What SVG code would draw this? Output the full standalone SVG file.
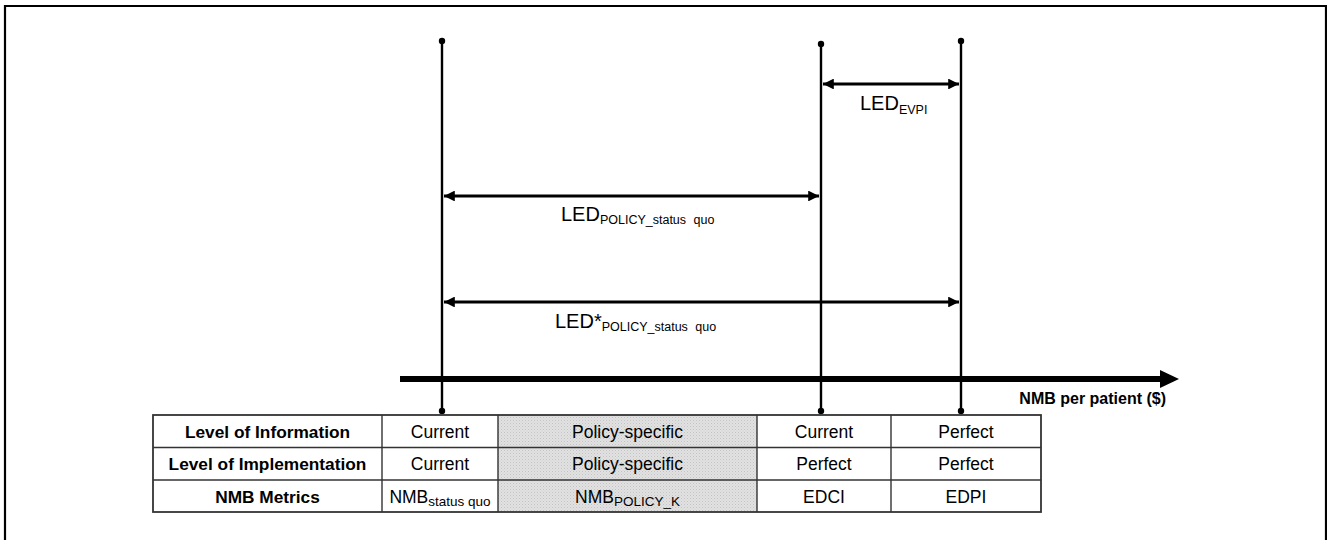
<svg xmlns="http://www.w3.org/2000/svg" width="1327" height="540" viewBox="0 0 1327 540">
<style>
.frame{fill:none;stroke:#000;stroke-width:2.2}
.vline{stroke:#000;stroke-width:2.4;fill:none}
.dot{fill:#000}
.dbl{stroke:#000;stroke-width:3;fill:none;marker-start:url(#ahS);marker-end:url(#ahE)}
.axis{stroke:#000;stroke-width:6;fill:none}
.lbl{font-family:"Liberation Sans",Arial,sans-serif;font-size:20px;fill:#000}
.sub{font-size:12.5px}
.cell{fill:none;stroke:#333;stroke-width:1.4}
.tx{font-family:"Liberation Sans",Arial,sans-serif;font-size:17.5px;fill:#000;text-anchor:middle}
.b{font-weight:bold;font-size:17.3px}
.tsub{font-size:13.5px}
</style>
<defs>
<marker id="ahE" viewBox="0 0 10 10" refX="10" refY="5" markerWidth="3.6" markerHeight="3.6" orient="auto" markerUnits="strokeWidth">
<path d="M0,0 L10,5 L0,10 Z" fill="#000"/>
</marker>
<marker id="ahS" viewBox="0 0 10 10" refX="0" refY="5" markerWidth="3.6" markerHeight="3.6" orient="auto" markerUnits="strokeWidth">
<path d="M10,0 L0,5 L10,10 Z" fill="#000"/>
</marker>
<pattern id="stip" width="3" height="3" patternUnits="userSpaceOnUse">
<rect width="3" height="3" fill="#e2e2e2"/>
<rect x="0" y="0" width="1" height="1" fill="#c2c2c2"/>
<rect x="1.5" y="1.5" width="1" height="1" fill="#cacaca"/>
</pattern>
</defs>
<rect width="1327" height="540" fill="#fff"/>
<path class="frame" d="M5,541 V6 H1326 V541"/>

<g id="connectors">
<g id="markers-lines">
<line class="vline" x1="442" y1="41" x2="442" y2="411"/>
<circle class="dot" cx="442" cy="41" r="3.2"/>
<circle class="dot" cx="442" cy="411" r="3.2"/>
<line class="vline" x1="821" y1="44" x2="821" y2="411"/>
<circle class="dot" cx="821" cy="44" r="3.2"/>
<circle class="dot" cx="821" cy="411" r="3.2"/>
<line class="vline" x1="961" y1="41" x2="961" y2="411"/>
<circle class="dot" cx="961" cy="41" r="3.2"/>
<circle class="dot" cx="961" cy="411" r="3.2"/>
</g>
<line class="dbl" x1="823" y1="84" x2="959" y2="84"/>
<line class="dbl" x1="444" y1="196" x2="819" y2="196"/>
<line class="dbl" x1="444" y1="302" x2="959" y2="302"/>
<line class="axis" x1="400" y1="379" x2="1162" y2="379"/>
<path d="M1160,370 L1179,379 L1160,388 Z" fill="#000"/>
</g>

<g id="label-evpi">
<text class="lbl" x="860" y="110">LED<tspan class="sub" dy="4">EVPI</tspan></text>
</g>
<g id="label-policy">
<text class="lbl" x="561" y="221">LED<tspan class="sub" dy="3" style="word-spacing:4px">POLICY_status quo</tspan></text>
</g>
<g id="label-policy-star">
<text class="lbl" x="555" y="328">LED*<tspan class="sub" dy="3" style="word-spacing:4px">POLICY_status quo</tspan></text>
</g>
<g id="axis-label">
<text class="tx b" x="1166" y="404" style="text-anchor:end;font-size:16px">NMB per patient ($)</text>
</g>

<g id="table">
<rect x="498" y="415" width="259" height="97" fill="url(#stip)"/>
<rect class="cell" x="153" y="415" width="888" height="97" style="stroke-width:1.8"/>
<line class="cell" x1="153" y1="447.5" x2="1041" y2="447.5"/>
<line class="cell" x1="153" y1="480" x2="1041" y2="480"/>
<line class="cell" x1="382" y1="415" x2="382" y2="512"/>
<line class="cell" x1="498" y1="415" x2="498" y2="512"/>
<line class="cell" x1="757" y1="415" x2="757" y2="512"/>
<line class="cell" x1="891" y1="415" x2="891" y2="512"/>

<g id="row-information">
<text class="tx b" x="267.5" y="437.5">Level of Information</text>
<text class="tx" x="440" y="437.5">Current</text>
<text class="tx" x="627.5" y="437.5">Policy-specific</text>
<text class="tx" x="824" y="437.5">Current</text>
<text class="tx" x="966" y="437.5">Perfect</text>
</g>
<g id="row-implementation">
<text class="tx b" x="267.5" y="470">Level of Implementation</text>
<text class="tx" x="440" y="470">Current</text>
<text class="tx" x="627.5" y="470">Policy-specific</text>
<text class="tx" x="824" y="470">Perfect</text>
<text class="tx" x="966" y="470">Perfect</text>
</g>
<g id="row-metrics">
<text class="tx b" x="267.5" y="502.5">NMB Metrics</text>
<text class="tx" x="440" y="502.5">NMB<tspan class="tsub" dy="3">status quo</tspan></text>
<text class="tx" x="627.5" y="502.5">NMB<tspan class="tsub" dy="3">POLICY_K</tspan></text>
<text class="tx" x="824" y="502.5">EDCI</text>
<text class="tx" x="966" y="502.5">EDPI</text>
</g>
</g>
</svg>
